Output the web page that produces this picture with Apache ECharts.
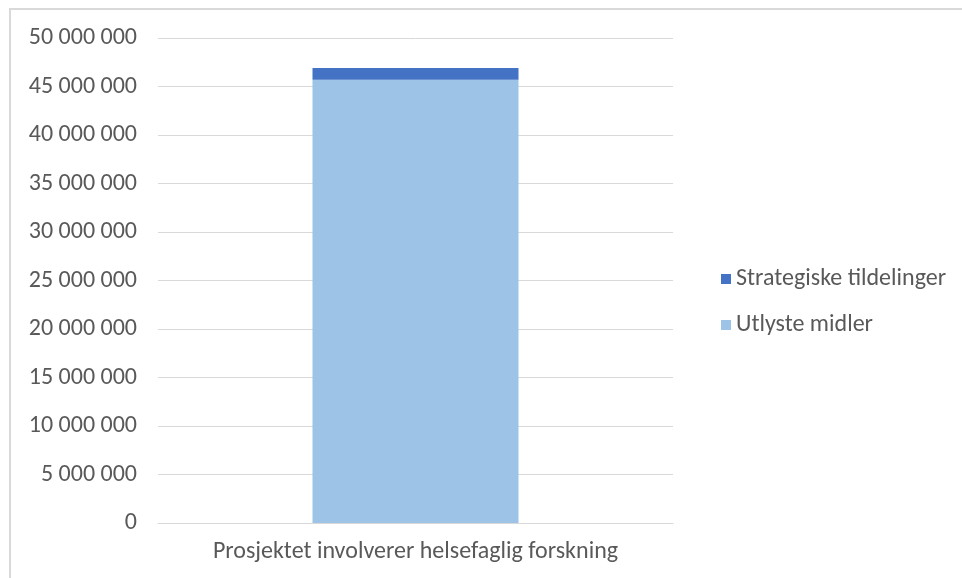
<!DOCTYPE html>
<html>
<head>
<meta charset="utf-8">
<script src="https://cdn.jsdelivr.net/npm/echarts@6/dist/echarts.min.js"></script>
<style>
  html, body { margin: 0; padding: 0; background: #fff; }
  #frame { position: absolute; left: 9px; top: 8px; width: 960px; height: 580px;
           border-left: 2px solid #d9d9d9; border-top: 2px solid #d9d9d9; box-sizing: border-box; }
  #chart { position: absolute; left: 0; top: 0; width: 962px; height: 578px; }
</style>
</head>
<body>
<div id="frame"></div>
<div id="chart"></div>
<script>
// Funding for projects involving health-science research, stacked by source
const categories = ['Prosjektet involverer helsefaglig forskning'];
const utlysteMidler = [45700000];
const strategiskeTildelinger = [1200000];
const yTicks = [0, 5000000, 10000000, 15000000, 20000000, 25000000, 30000000, 35000000, 40000000, 45000000, 50000000];

const fmt = v => String(v).replace(/\B(?=(\d{3})+(?!\d))/g, ' ');
const font = 'Calibri, Carlito, "Open Sans", sans-serif';

const chart = echarts.init(document.getElementById('chart'));
chart.setOption({
  animation: false,
  textStyle: { fontFamily: font },
  grid: { left: 158, right: 289, top: 38, bottom: 55, containLabel: false },
  legend: {
    orient: 'vertical',
    left: 716,
    top: 262,
    itemWidth: 10,
    itemHeight: 10,
    itemGap: 22,
    icon: 'rect',
    textStyle: { fontSize: 24, color: '#595959', fontFamily: font },
    data: ['Strategiske tildelinger', 'Utlyste midler']
  },
  xAxis: {
    type: 'category',
    data: categories,
    axisLine: { lineStyle: { color: '#d9d9d9', width: 1 } },
    axisTick: { show: false },
    axisLabel: { fontSize: 24, color: '#595959', margin: 17, fontFamily: font }
  },
  yAxis: {
    type: 'value',
    min: yTicks[0],
    max: yTicks[yTicks.length - 1],
    interval: yTicks[1] - yTicks[0],
    axisLine: { show: false },
    axisTick: { show: false },
    splitLine: { lineStyle: { color: '#d9d9d9', width: 1 } },
    axisLabel: { fontSize: 24, color: '#595959', margin: 21, fontFamily: font, formatter: fmt }
  },
  series: [
    {
      name: 'Utlyste midler',
      type: 'bar',
      stack: 'total',
      barWidth: 206,
      data: utlysteMidler,
      itemStyle: { color: '#9dc3e6' }
    },
    {
      name: 'Strategiske tildelinger',
      type: 'bar',
      stack: 'total',
      barWidth: 206,
      data: strategiskeTildelinger,
      itemStyle: { color: '#4472c4' }
    }
  ]
});
</script>
</body>
</html>
